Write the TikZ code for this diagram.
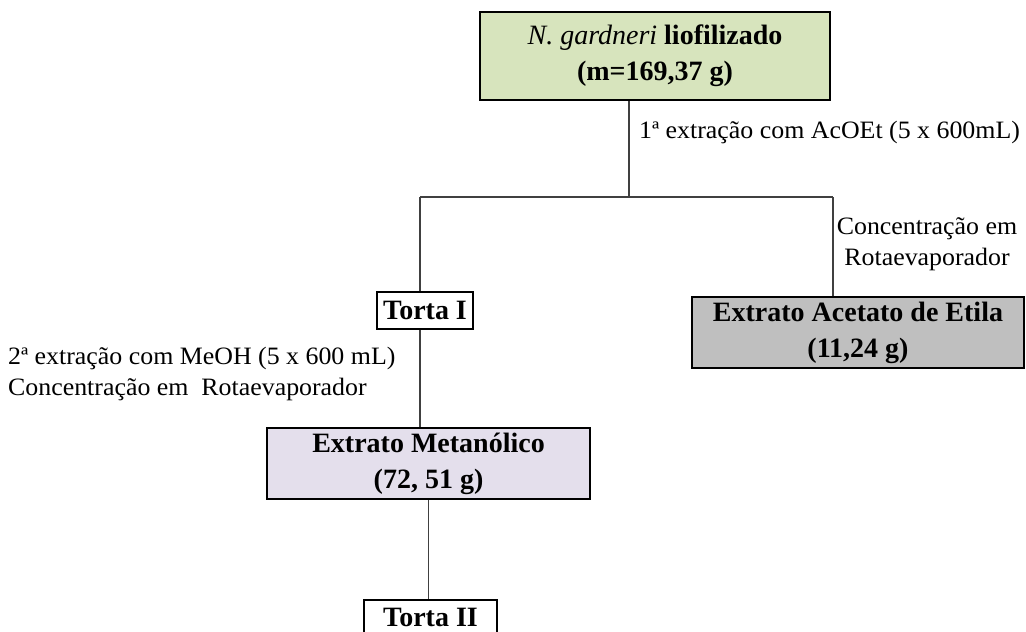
\documentclass[tikz,border=0pt]{standalone}
\usepackage{fontspec}
\setmainfont{Liberation Serif}
\newfontfamily\lblfont{Liberation Serif}[FakeStretch=1.035]
\definecolor{topgreen}{HTML}{D7E4BD}
\definecolor{ethgray}{HTML}{BFBFBF}
\definecolor{metlav}{HTML}{E4DFEC}
\definecolor{linegray}{HTML}{404040}
\begin{document}
\begin{tikzpicture}[x=1pt,y=-1pt,
  box/.style={draw=black,line width=2.4pt,inner sep=0pt,align=center,
    font=\fontsize{28}{36}\selectfont\bfseries},
  conn/.style={draw=linegray,line width=1.4pt},
  lbl/.style={inner sep=0pt,font=\lblfont\fontsize{25}{31}\selectfont}]
\clip (0,0) rectangle (1026,632);
\fill[white] (0,0) rectangle (1026,632);
% boxes
\node[box,fill=topgreen,minimum width=350pt,minimum height=88pt] (top) at (655,56)
  {{\mdseries\itshape N. gardneri} liofilizado\\(m=169,37 g)};
\node[box,fill=ethgray,minimum width=332pt,minimum height=71pt] (eth) at (858,332.5)
  {Extrato Acetato de Etila\\(11,24 g)};
\node[box,fill=white,minimum width=96pt,minimum height=37pt] (t1) at (425,310.5) {Torta I};
\node[box,fill=metlav,minimum width=323pt,minimum height=71pt] (met) at (428.5,463.5)
  {Extrato Metanólico\\(72, 51 g)};
\node[box,fill=white,minimum width=133pt,minimum height=34pt] (t2) at (430.5,617) {Torta II};
% junction coordinates
\coordinate (j) at (629,197);
\coordinate (jl) at (420,197);
\coordinate (jr) at (833,197);
% connectors
\draw[conn] (top.south -| j) -- (j);
\draw[conn] (jl) -- (jr);
\draw[conn] (jl) -- (t1.north -| jl);
\draw[conn] (jr) -- (eth.north -| jr);
\draw[conn] (t1.south -| jl) -- (met.north -| jl);
\draw[conn] (met.south) -- (met.south |- t2.north);
% labels
\node[lbl,anchor=west] (l1) at (639,132) {1ª extração com AcOEt (5 x 600mL)};
\node[lbl,align=center] (l2) at (927,244) {Concentração em\\Rotaevaporador};
\node[lbl,align=left,anchor=west] (l3) at (8,374) {2ª extração com MeOH (5 x 600 mL)\\Concentração em\ \ Rotaevaporador};
\end{tikzpicture}
\end{document}
